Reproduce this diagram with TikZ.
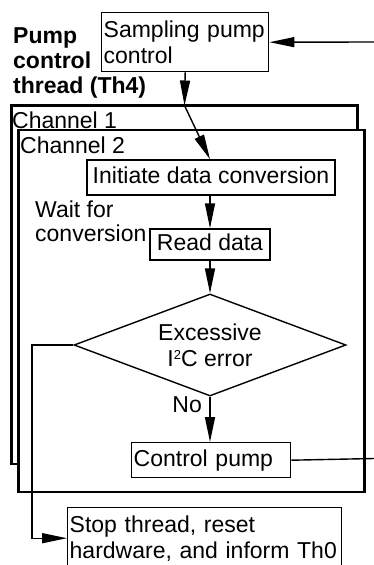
\documentclass[tikz,border=0pt]{standalone}
\usepackage{fontspec}
\setmainfont{Liberation Sans}
\usetikzlibrary{arrows.meta,shapes.geometric}
\tikzset{
  every node/.style={font=\fontsize{23}{26}\selectfont},
  box/.style={draw, line width=1.4pt, fill=white, inner sep=2pt},
  chan/.style={draw, line width=2.8pt, fill=white},
  conn/.style={line width=1.4pt},
  arr/.style={conn, -{Triangle[length=25pt,width=10pt]}},
}
\newcommand{\supertwo}{{\fontsize{13}{13}\selectfont\raisebox{7pt}{2}}}
\begin{document}
\begin{tikzpicture}[x=1pt,y=-1pt]
\clip (0,0) rectangle (374,565);
\fill[white] (0,0) rectangle (374,565);

% channel frames
\draw[chan] (11.5,105.5) rectangle (357.5,464);
\node[anchor=base west, inner sep=0] (ch1) at (12,128) {Channel 1};
\draw[chan] (18.5,130) rectangle (364.5,492);
\node[anchor=base west, inner sep=0] (ch2) at (20,153) {Channel 2};

% title
\node[anchor=north west, inner sep=0, align=left, font=\bfseries\fontsize{23}{25}\selectfont] (title) at (13,27) {Pump\\control\\thread (Th4)};

% boxes
\node[box, anchor=north west, text width=163pt, align=left, minimum height=59pt] (samp) at (101,12) {Sampling pump\\control};
\node[box, minimum width=248pt, minimum height=35pt, text height=17pt, text depth=5pt] (init) at (211,177.5) {Initiate data conversion};
\node[box, minimum width=120pt, minimum height=31pt, text height=17pt, text depth=5pt] (read) at (210,244.5) {Read data};
\node[draw, line width=1.4pt, fill=white, diamond, aspect=2.67, inner sep=0pt, minimum width=272pt, minimum height=102pt, align=center] (dia) at (210,345) {Excessive\\I\supertwo C error};
\node[box, anchor=north west, text width=155pt, align=left, minimum height=35pt, text height=17pt, text depth=5pt] (ctrl) at (131,442) {Control pump};
\node[box, anchor=north west, text width=270pt, align=left, minimum height=61pt] (stop) at (67,507) {Stop thread, reset\\hardware, and inform Th0};

% labels
\node[anchor=north west, inner sep=0, align=left, font=\fontsize{23}{24}\selectfont] (wait) at (35,201) {Wait for\\conversion};
\node[anchor=base east, inner sep=0] (no) at (202,412) {No};

% coordinates
\coordinate (retin) at (374,42);
\coordinate (retout) at (374,458.5);
\coordinate (c1top) at (184.5,105.5);
\coordinate (lft) at (32,345);

% connectors
\draw[arr] (retin) -- (samp.east);
\draw[arr] (samp.south) -- (c1top);
\draw[arr] (c1top) -- ([xshift=-1pt]init.north);
\draw[arr] (read.north |- init.south) -- (read.north);
\draw[arr] (read.south) -- (dia.north);
\draw[arr] (dia.south) -- (dia.south |- ctrl.north);
\draw[conn] (ctrl.east) -- (retout);
\draw[arr] (dia.west) -- (lft) |- (stop.west);
\end{tikzpicture}
\end{document}
